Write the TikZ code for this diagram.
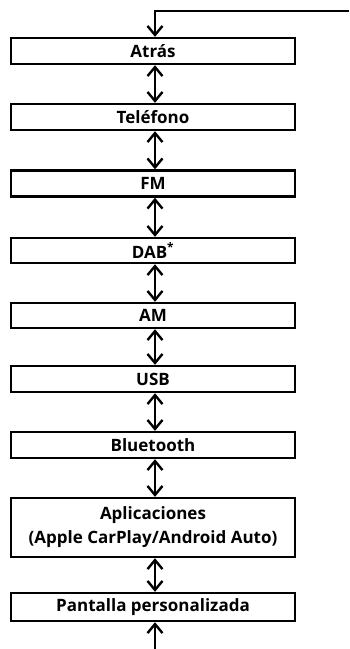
\documentclass[tikz,border=0pt]{standalone}
\usepackage{fontspec}
\setmainfont{Open Sans}
\usetikzlibrary{arrows.meta}
\begin{document}
\begin{tikzpicture}[x=1pt,y=-1pt,
  menubox/.style={draw, line width=2.4pt, minimum width=284pt, inner sep=0pt, font=\bfseries\fontsize{17}{24}\selectfont, align=center},
  link/.style={line width=2.6pt, {Straight Barb[length=9pt,width=15pt,line width=2.4pt]}-{Straight Barb[length=9pt,width=15pt,line width=2.4pt]}},
  uplink/.style={line width=2.6pt, -{Straight Barb[length=9pt,width=15pt,line width=2.4pt]}}]
\useasboundingbox (0,0) rectangle (349,649);
\node[menubox, minimum height=26pt] (atras) at (153,51) {Atrás};
\node[menubox, minimum height=26pt] (tel) at (153,117) {Teléfono};
\node[menubox, minimum height=26pt] (fm) at (153,183.5) {FM};
\node[menubox, minimum height=25pt] (dab) at (153,250.5) {DAB\textsuperscript{*}};
\node[menubox, minimum height=25pt] (am) at (153,315.5) {AM};
\node[menubox, minimum height=26pt] (usb) at (153,379) {USB};
\node[menubox, minimum height=26pt] (bt) at (153,445) {Bluetooth};
\node[menubox, minimum height=59pt] (app) at (153,527.5) {Aplicaciones\\(Apple CarPlay/Android Auto)};
\node[menubox, minimum height=28pt] (pant) at (153,607) {Pantalla personalizada};
\coordinate (tr) at (349,11);
\coordinate (bot) at (155,649);
\draw[uplink] (tr) -- (155,11) -- (atras.north -| 155,0);
\foreach \a/\b in {atras/tel, tel/fm, fm/dab, dab/am, am/usb, usb/bt, bt/app, app/pant}
  \draw[link] (\a.south -| 155,0) -- (\b.north -| 155,0);
\draw[uplink] (bot) -- (pant.south -| 155,0);
\end{tikzpicture}
\end{document}
